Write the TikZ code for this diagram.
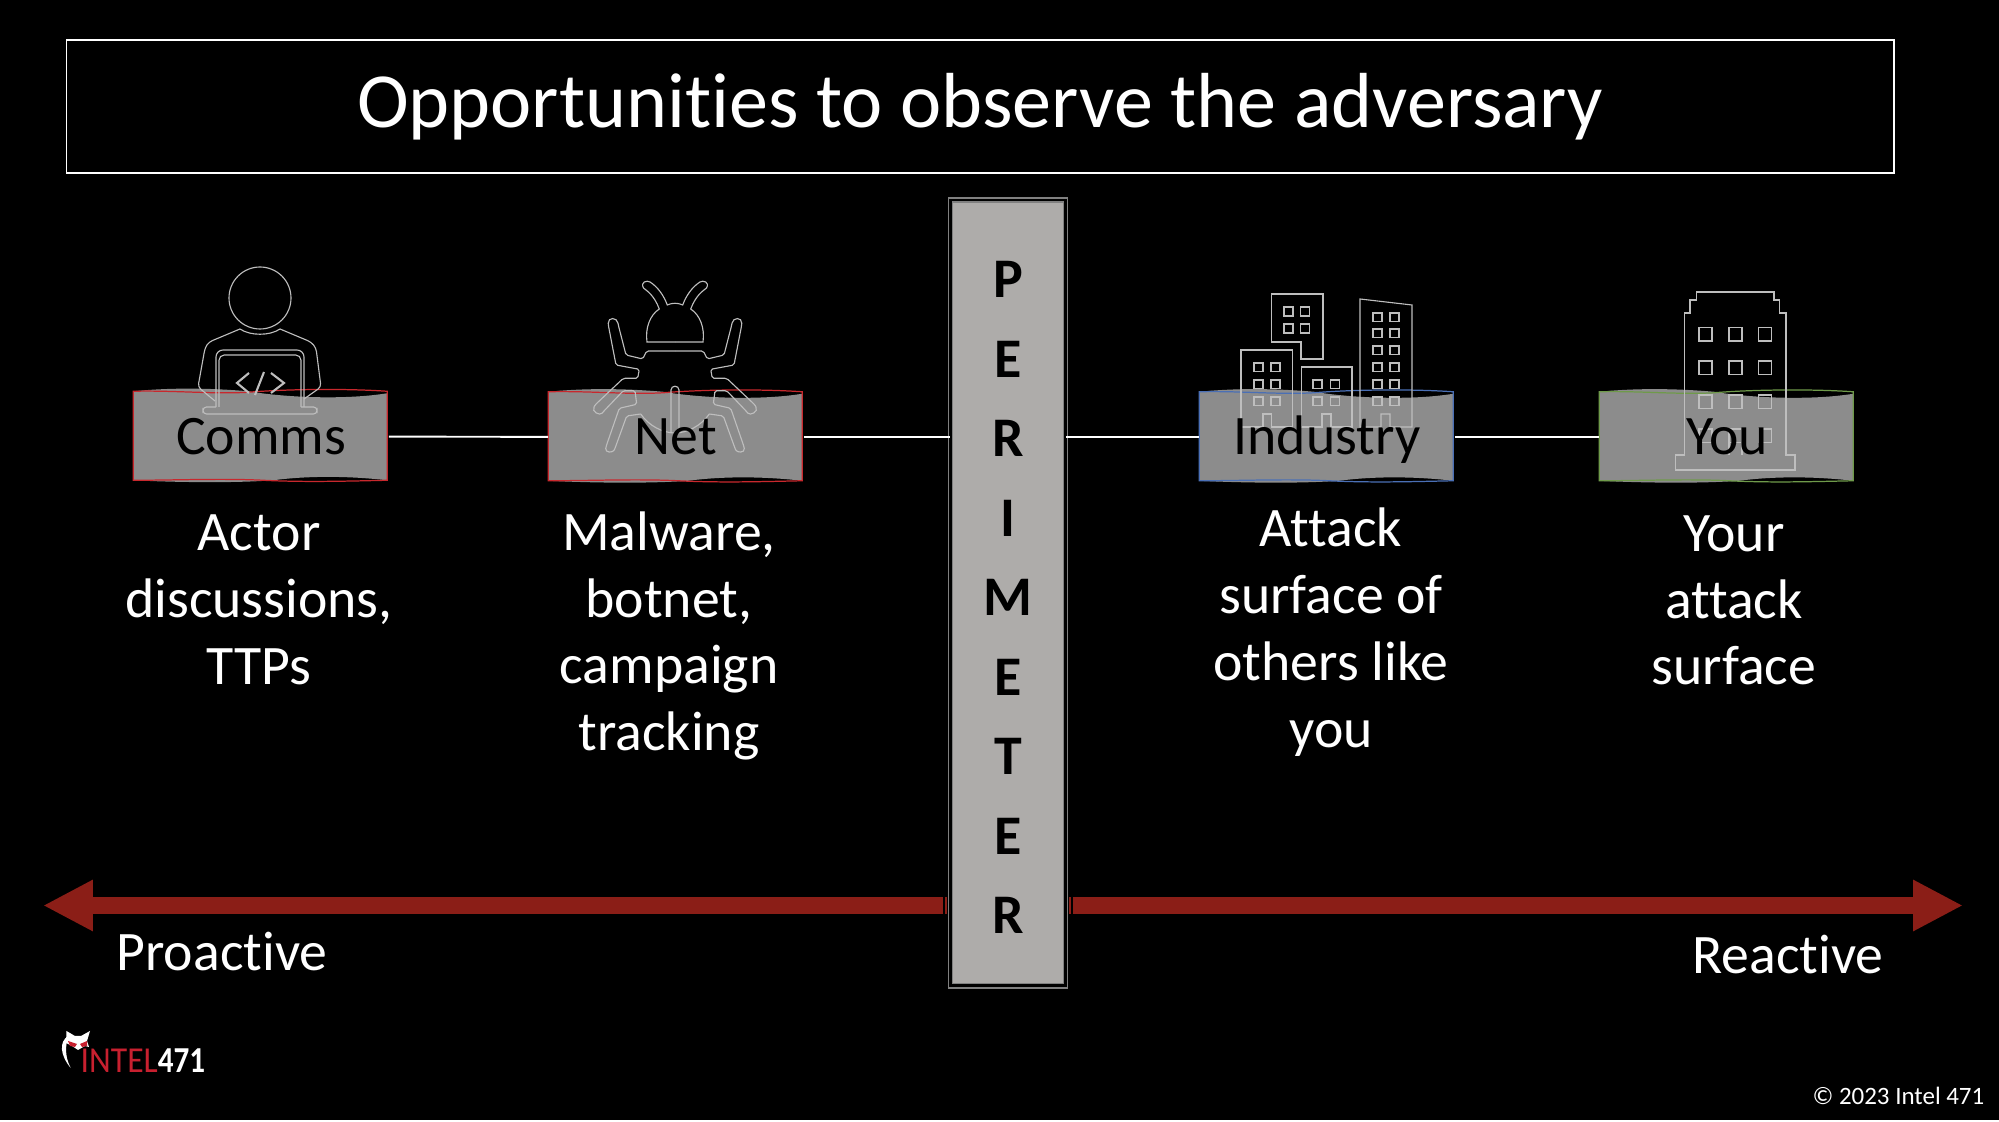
\documentclass[tikz,border=0pt]{standalone}
\usepackage{fontspec}
\setmainfont[Ligatures=NoCommon]{Carlito}
\usepackage{tikz}
\usetikzlibrary{arrows.meta, positioning, backgrounds}
\definecolor{boxgrey}{HTML}{8C8C8C}
\definecolor{wallgrey}{HTML}{AEACAA}
\definecolor{arrowred}{HTML}{8B1E17}
\definecolor{logored}{HTML}{C8202F}
\definecolor{edgered}{HTML}{C8282D}
\definecolor{edgeblue}{HTML}{4A6FB5}
\definecolor{edgegreen}{HTML}{6F9A4A}
\definecolor{iconline}{HTML}{BEBEBE}
\tikzset{
  sketchbox/.style={minimum width=2.54cm, minimum height=0.89cm, inner sep=0pt, text=black,
    text height=10.2pt, text depth=0pt, font=\fontsize{15.85}{19}\selectfont},
  bodytext/.style={text=white, align=center, inner sep=0pt, font=\fontsize{15.85}{19}\selectfont},
  link/.style={white, line width=0.55pt, yshift=0.4pt},
  icon/.style={iconline, line width=0.32pt},
  bigarrow/.style={arrowred, line width=4.84pt, -{Triangle[length=14.2pt, width=13.6pt]}},
}
\begin{document}
\begin{tikzpicture}[x=0.01cm, y=-0.01cm]
  \useasboundingbox (0,0) rectangle (1999,1122);
  \begin{pgfonlayer}{background}
    \fill[black] (0,0) rectangle (1999,1120);
  \end{pgfonlayer}

  % Title
  \node[draw=white, line width=0.55pt, minimum width=18.26cm, minimum height=1.33cm, inner sep=0pt, text=white,
    font=\fontsize{22.2}{27}\selectfont] (title) at (980,106.5) {Opportunities to observe the adversary};

  % Person at laptop
  \draw[icon] (260,298) circle (31);
  \draw[icon, rounded corners=1pt] (215,401) -- (198,387) -- (205,348) -- (209,342) -- (240,329);
  \draw[icon] (240,329) .. controls (250,336) and (270,336) .. (280,329);
  \draw[icon, rounded corners=1pt] (280,329) -- (311,342) -- (316,348) -- (321,387) -- (304,399);
  \draw[icon, rounded corners=2pt] (216,407) -- (216,350) -- (304,350) -- (304,407);
  \draw[icon, rounded corners=1.5pt] (219,407) -- (219,355) -- (301,355) -- (301,407);
  \draw[icon, rounded corners=1pt] (216,407) -- (203,407) -- (203,414) -- (317,414) -- (317,407) -- (301,407);
  \draw[icon, line width=0.6pt] (249,373) -- (237,383) -- (249,393);
  \draw[icon, line width=0.6pt] (264,372) -- (255,395);
  \draw[icon, line width=0.6pt] (271,373) -- (284,383) -- (271,393);

  % Bug
  \draw[icon] (671,433) -- (671,390) .. controls (671,385) and (679,385) .. (679,390) -- (679,433);
  \foreach \s in {1,-1} {
    \begin{scope}[shift={(675,0)}, xscale=\s]
      % head and antenna
      \draw[icon] (0,342) -- (-28,342) .. controls (-30,328) and (-25,315) .. (-15.7,309)
        .. controls (-21,295) and (-28,291) .. (-31.5,288) .. controls (-35,282) and (-28,280) .. (-25,282)
        .. controls (-17,287) and (-11,296) .. (-7.7,305) .. controls (-4,303.5) and (-2,303.3) .. (0,303.3);
      % legs
      \draw[icon, rounded corners=0.5pt] (0,351) -- (-28.3,351) -- (-32.3,359) -- (-49,355) -- (-56.7,325)
        .. controls (-58,317) and (-67,317) .. (-66.7,325) -- (-59,365) -- (-35.7,369.3) -- (-37.3,378.3) -- (-51.7,378.3) -- (-80,405)
        .. controls (-84,412) and (-75,416) .. (-71.7,411.7) -- (-51.7,390.7) -- (-40,390.7) -- (-38.3,404.3) -- (-55.7,408.3) -- (-69,446.7)
        .. controls (-70,453) and (-62,453) .. (-60,448.3) -- (-48.3,416) -- (-34.3,414);
      \draw[icon] (-34.3,414) .. controls (-26,426) and (-12,433) .. (0,433);
    \end{scope}
  }

  % Industry buildings
  \draw[icon] (1271.5,294) -- (1323,294) -- (1323,359) -- (1301,359) -- (1301,342) -- (1271.5,342) -- cycle;
  \draw[icon] (1241,427) -- (1241,350) -- (1292.5,350) -- (1292.5,427) -- (1271.5,427) -- (1271.5,414) -- (1263,414) -- (1263,427) -- cycle;
  \draw[icon] (1301.5,427) -- (1301.5,367) -- (1352,367) -- (1352,427) -- (1331,427) -- (1331,414) -- (1322,414) -- (1322,427) -- cycle;
  \draw[icon] (1360,427) -- (1360,299) -- (1412,305) -- (1412,427) -- (1390,427) -- (1390,414) -- (1381,414) -- (1381,427) -- cycle;
  \foreach \wx in {1284,1300.5} \foreach \wy in {307,324}
    \draw[icon] (\wx,\wy) rectangle ++(9,9);
  \foreach \wx in {1254,1271} \foreach \wy in {363,380,397}
    \draw[icon] (\wx,\wy) rectangle ++(9,8.5);
  \foreach \wx in {1313,1330.5} \foreach \wy in {380,397}
    \draw[icon] (\wx,\wy) rectangle ++(9,8.5);
  \foreach \wx in {1373,1390} \foreach \wy in {313,329,346,363,380,397}
    \draw[icon] (\wx,\wy) rectangle ++(9,8.5);

  % Own building
  \draw[icon] (1684.4,313) -- (1690,313) -- (1690,300) -- (1696.5,300) -- (1696.5,292) -- (1774,292) -- (1774,300) -- (1779.5,300) -- (1779.5,313) -- (1786,313)
    -- (1786,455) -- (1795,455) -- (1795,470) -- (1675.5,470) -- (1675.5,455) -- (1684.4,455) -- cycle;
  \foreach \wx in {1699,1729,1758.5} \foreach \wy in {327.5,361,395,429}
    \draw[icon] (\wx,\wy) rectangle ++(13,13.5);
  \draw[icon] (1729,443) -- (1729,455);
  \draw[icon] (1742,443) -- (1742,455);

  % Boxes
  \node[sketchbox] (comms) at (261,436.5) {Comms};
  \node[sketchbox] (net) at (676,437) {Net};
  \node[sketchbox] (industry) at (1327,437) {Industry};
  \node[sketchbox] (you) at (1727,437) {You};

  % Box shapes go under the icons and the words
  \begin{pgfonlayer}{background}
    \foreach \n/\c in {comms/edgered, net/edgered, industry/edgeblue, you/edgegreen} {
      \begin{scope}[shift={(\n.north west)}]
        \fill[boxgrey] (0,0) .. controls (40,-4) and (80,-3) .. (115,0) .. controls (150,6) and (210,9) .. (254,2)
          -- (254,89) .. controls (210,84) and (170,85) .. (140,89) .. controls (100,92) and (40,91) .. (0,89) -- cycle;
        \draw[\c, line width=0.35pt] (0,0) .. controls (40,-1) and (80,3) .. (115,1) .. controls (150,-2) and (210,-3) .. (254,0)
          -- (254,89) .. controls (210,90) and (170,91) .. (130,89) .. controls (90,87) and (40,89) .. (0,89) -- cycle;
      \end{scope}
    }
  \end{pgfonlayer}

  % Descriptions
  \node[bodytext] (commstext) at (259,600) {Actor\\discussions,\\TTPs};
  \node[bodytext] (nettext) at (669,636) {Malware,\\botnet,\\campaign\\tracking};
  \node[bodytext] (industrytext) at (1331,632) {Attack\\surface of\\others like\\you};
  \node[bodytext] (youtext) at (1734,600.5) {Your\\attack\\surface};

  % Perimeter wall
  \node[draw=black!50, double=black, line width=0.45pt, double distance=0.7pt, fill=wallgrey,
    minimum width=1.15cm, minimum height=7.85cm, inner sep=0pt] (perimeter) at (1008,593) {};
  \node[inner sep=0pt, text=black, align=center, font=\fontsize{15.9}{22.6}\selectfont\bfseries]
    (perimetertext) at (1008,597.5) {P\\E\\R\\I\\M\\E\\T\\E\\R};

  % Connectors
  \draw[link] (comms) -- (net);
  \draw[link] (net.east) -- (net.east -| perimeter.west);
  \draw[link] (industry.west -| perimeter.east) -- (industry.west);
  \draw[link] (industry) -- (you);

  % Proactive to reactive
  \coordinate (leftstart) at (943,905.5);
  \coordinate (lefttip) at (43,905.5);
  \coordinate (rightstart) at (1073,905.5);
  \coordinate (righttip) at (1963,905.5);
  \draw[bigarrow] (leftstart) -- (lefttip);
  \draw[bigarrow] (rightstart) -- (righttip);
  \fill[arrowred] (945,897) rectangle (947,914);
  \fill[arrowred] (1069,897) rectangle (1071,914);
  \node[bodytext] (proactive) at (222,952) {Proactive};
  \node[bodytext] (reactive) at (1788,955) {Reactive};

  % Logo
  \fill[white] (70.7,1068) .. controls (60,1055) and (59,1042) .. (68,1036) .. controls (66,1045) and (64,1055) .. (70.7,1068) -- cycle;
  \fill[white] (66.5,1031) -- (75,1036) -- (81,1036) -- (90,1031) -- (87,1041) -- (89,1047) -- (85,1046) -- (78,1050) -- (72,1046) -- (66,1043) -- cycle;
  \fill[logored] (68,1041) -- (77,1044) -- (75,1047) -- (70,1046) -- cycle;
  \fill[logored] (87,1041) -- (80,1044) -- (82,1047) -- (87,1046) -- cycle;
  \node[anchor=base west, inner sep=0pt, font=\fontsize{10.4}{12}\selectfont, text=logored] (logo) at (80,1073)
    {\scalebox{0.92}[1]{INTEL}\textcolor{white}{\scalebox{0.85}[1]{\textbf{471}}}};

  % Copyright
  \node[anchor=east, inner sep=0pt, text=white, font=\fontsize{7.1}{9}\selectfont] (copyright) at (1985,1096) {© 2023 Intel 471};
\end{tikzpicture}
\end{document}
